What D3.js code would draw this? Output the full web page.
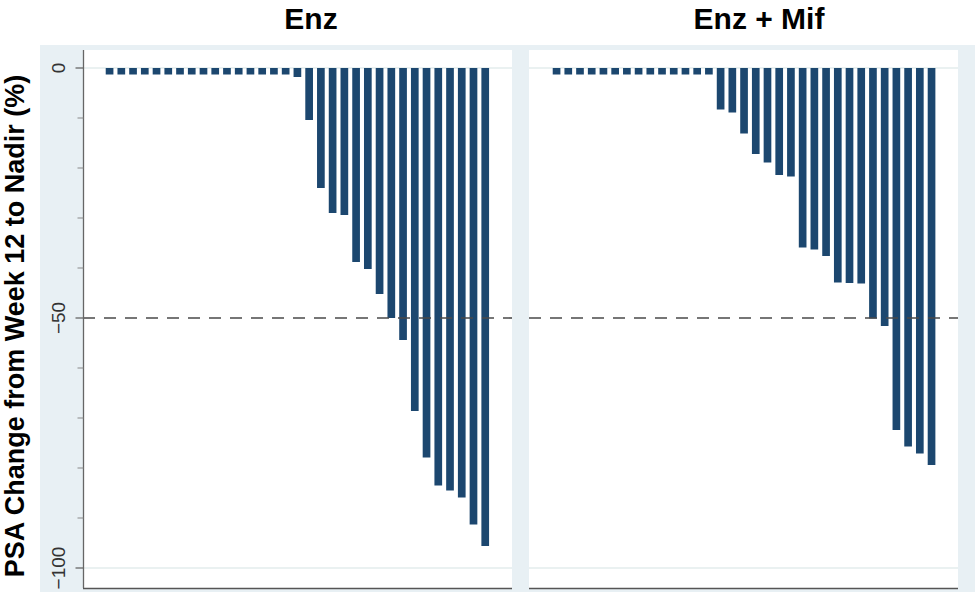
<!DOCTYPE html>
<html>
<head>
<meta charset="utf-8">
<script src="https://cdn.jsdelivr.net/npm/d3@7"></script>
<style>
  html, body { margin: 0; padding: 0; background: #ffffff; }
  svg { display: block; font-family: "Liberation Sans", Arial, sans-serif; }
</style>
</head>
<body>
<svg id="chart" width="975" height="592"></svg>
<script>
// ---- data ----
const panelTitles = ["Enz", "Enz + Mif"];
const enzValues = [
  -1.3, -1.3, -1.3, -1.3, -1.3, -1.3, -1.3, -1.3, -1.3, -1.3, -1.3, -1.3, -1.3, -1.3, -1.3, -1.3,
  -1.8, -10.4, -24.0, -29.0, -29.4, -38.8, -40.2, -45.2, -50.0, -54.4, -68.6, -77.9,
  -83.5, -84.5, -85.9, -91.3, -95.6
];
const enzMifValues = [
  -1.3, -1.3, -1.3, -1.3, -1.3, -1.3, -1.3, -1.3, -1.3, -1.3, -1.3, -1.3, -1.3, -1.3,
  -8.3, -8.9, -13.1, -17.2, -18.9, -21.4, -21.7, -35.9, -36.3, -37.6, -42.9, -43.0, -43.1,
  -50.1, -51.6, -72.4, -75.7, -77.1, -79.4
];
const yTicks = [0, -50, -100];
const yMinorTicks = [-10, -20, -30, -40, -60, -70, -80, -90];
const refLine = -50;
const yTitle = "PSA Change from Week 12 to Nadir (%)";

// ---- layout ----
const svg = d3.select("#chart");
const bg = "#e8f0f4";
const barColor = "#1c476f";
const plotTop = 50, plotBottom = 588;

svg.append("rect").attr("x", 40).attr("y", 45).attr("width", 935).attr("height", 547).attr("fill", bg);

const y = d3.scaleLinear().domain([0, -100]).range([68, 568]);

const panels = [
  { title: panelTitles[0], values: enzValues, x0: 83, x1: 512, bandRange: [103.7, 491.1], titleX: 311 },
  { title: panelTitles[1], values: enzMifValues, x0: 529, x1: 958, bandRange: [550.7, 937.4], titleX: 759 }
];

panels.forEach((p, pi) => {
  const g = svg.append("g");
  g.append("rect").attr("x", p.x0).attr("y", plotTop).attr("width", p.x1 - p.x0)
    .attr("height", plotBottom - plotTop).attr("fill", "#ffffff");

  // light gridlines at labelled ticks 0 and -100
  g.selectAll("line.grid").data([0, -100]).join("line")
    .attr("class", "grid")
    .attr("x1", p.x0).attr("x2", p.x1)
    .attr("y1", d => y(d)).attr("y2", d => y(d))
    .attr("stroke", "#e3ecec").attr("stroke-width", 1.5);

  const x = d3.scaleBand()
    .domain(d3.range(p.values.length))
    .range(p.bandRange)
    .paddingInner(0.345)
    .paddingOuter(0.1725);

  g.selectAll("rect.bar").data(p.values).join("rect")
    .attr("class", "bar")
    .attr("x", (d, i) => x(i))
    .attr("width", x.bandwidth())
    .attr("y", y(0))
    .attr("height", d => y(d) - y(0))
    .attr("fill", barColor);

  // dashed reference line
  g.append("line")
    .attr("x1", p.x0).attr("x2", p.x1)
    .attr("y1", y(refLine)).attr("y2", y(refLine))
    .attr("stroke", "#4a4a4a").attr("stroke-width", 1.6)
    .attr("stroke-dasharray", "12,9");

  // bottom axis line
  g.append("line")
    .attr("x1", p.x0).attr("x2", p.x1)
    .attr("y1", plotBottom + 0.5).attr("y2", plotBottom + 0.5)
    .attr("stroke", "#555555").attr("stroke-width", 1.5);

  // panel title
  svg.append("text")
    .attr("x", p.titleX).attr("y", 29)
    .attr("text-anchor", "middle")
    .attr("font-size", 30).attr("font-weight", "bold")
    .attr("fill", "#000000")
    .text(p.title);
});

// ---- y axis on left panel ----
const axisX = 83.5;
const yAxisG = svg.append("g");
yAxisG.append("line").attr("x1", axisX).attr("x2", axisX).attr("y1", plotTop).attr("y2", plotBottom)
  .attr("stroke", "#666666").attr("stroke-width", 1.3);

yAxisG.selectAll("line.major").data(yTicks).join("line")
  .attr("class", "major")
  .attr("x1", axisX - 8).attr("x2", axisX)
  .attr("y1", d => y(d)).attr("y2", d => y(d))
  .attr("stroke", "#666666").attr("stroke-width", 1.3);

yAxisG.selectAll("line.minor").data(yMinorTicks).join("line")
  .attr("class", "minor")
  .attr("x1", axisX - 6).attr("x2", axisX)
  .attr("y1", d => y(d)).attr("y2", d => y(d))
  .attr("stroke", "#888888").attr("stroke-width", 1);

yAxisG.selectAll("text.tick").data(yTicks).join("text")
  .attr("class", "tick")
  .attr("transform", d => `translate(65,${y(d)}) rotate(-90)`)
  .attr("text-anchor", "middle")
  .attr("font-size", 19)
  .attr("fill", "#333333")
  .text(d => d3.format("d")(d));

svg.append("text")
  .attr("transform", "translate(24,326) rotate(-90)")
  .attr("text-anchor", "middle")
  .attr("font-size", 27).attr("font-weight", "bold")
  .attr("fill", "#000000")
  .text(yTitle);
</script>
</body>
</html>
